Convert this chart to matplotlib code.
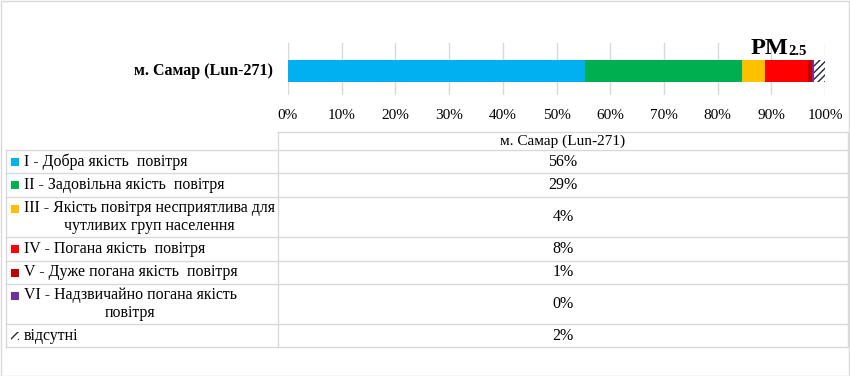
import matplotlib.pyplot as plt
from matplotlib.patches import Rectangle
from matplotlib.lines import Line2D

# data
station = 'м. Самар (Lun-271)'
categories = ['I - Добра якість  повітря',
              'II - Задовільна якість  повітря',
              'III - Якість повітря несприятлива для\nчутливих груп населення',
              'IV - Погана якість  повітря',
              'V - Дуже погана якість  повітря',
              'VI - Надзвичайно погана якість\nповітря',
              'відсутні']
shares = [55.4, 29.1, 4.3, 8.0, 0.8, 0.3, 2.1]
table_labels = ['56%', '29%', '4%', '8%', '1%', '0%', '2%']
colors = ['#00B0F0', '#00B050', '#FFC000', '#FF0000', '#C00000', '#7030A0', 'white']
ticks = list(range(0, 101, 10))

plt.rcParams['font.family'] = ['Liberation Serif', 'DejaVu Serif']

W, H = 850, 376
fig = plt.figure(figsize=(W / 100, H / 100), dpi=100)

def fx(x):
    return x / W

def fy(y):
    return 1 - y / H

# outer frame
fig.patches.append(Rectangle((fx(0.5), fy(375.5)), fx(848), 374.5 / H, transform=fig.transFigure,
                             fill=False, edgecolor='#d9d9d9', lw=1))

# bar chart
ax = fig.add_axes([fx(288), fy(95), fx(825) - fx(288), 52 / H])
left = 0
for v, c in zip(shares, colors):
    if c == 'white':
        ax.barh(0, v, left=left, height=0.423, color='white', edgecolor='#1f2a3a',
                hatch='/////', lw=0)
    else:
        ax.barh(0, v, left=left, height=0.423, color=c, lw=0)
    left += v
ax.set_xlim(0, 100)
ax.set_ylim(-0.4615, 0.5385)
ax.set_xticks(ticks)
ax.set_xticklabels([f'{t}%' for t in ticks], fontsize=11)
ax.set_yticks([])
ax.grid(axis='x', color='#d9d9d9', lw=1)
ax.set_axisbelow(True)
ax.tick_params(axis='x', length=0, pad=10)
for s in ax.spines.values():
    s.set_visible(False)

fig.text(fx(273), fy(71), station, ha='right', va='center', fontsize=11.5, fontweight='bold')
fig.text(fx(788), fy(54), 'PM', ha='right', va='baseline', fontsize=17.5, fontweight='bold')
fig.text(fx(788), fy(55), '2.5', ha='left', va='baseline', fontsize=10.5, fontweight='bold')

# table
rows = [150, 173, 197, 237, 261, 284, 324, 347]
grid_kw = dict(color='#d9d9d9', lw=1, transform=fig.transFigure)
fig.lines.append(Line2D([fx(278), fx(848)], [fy(132), fy(132)], **grid_kw))
for y in rows:
    fig.lines.append(Line2D([fx(6), fx(848)], [fy(y), fy(y)], **grid_kw))
fig.lines.append(Line2D([fx(6), fx(6)], [fy(150), fy(347)], **grid_kw))
fig.lines.append(Line2D([fx(278), fx(278)], [fy(132), fy(347)], **grid_kw))
fig.lines.append(Line2D([fx(848), fx(848)], [fy(132), fy(347)], **grid_kw))

fig.text(fx(563), fy(141), station, ha='center', va='center', fontsize=11)
for i, (cat, lab, c) in enumerate(zip(categories, table_labels, colors)):
    yc = (rows[i] + rows[i + 1]) / 2
    fig.text(fx(563), fy(yc), lab, ha='center', va='center', fontsize=11.5)
    fig.text(fx(24), fy(yc), cat, ha='left', va='center', fontsize=11.4,
             multialignment='center', linespacing=1.2)
    if c == 'white':
        fig.patches.append(Rectangle((fx(11), fy(yc + 4)), 8 / W, 8 / H, transform=fig.transFigure,
                                     facecolor='white', edgecolor='#1f2a3a', hatch='////', lw=0))
    else:
        top = rows[i] + 11.5
        fig.patches.append(Rectangle((fx(11), fy(top + 4)), 8 / W, 8 / H, transform=fig.transFigure,
                                     facecolor=c, lw=0))

fig.savefig('out.png', dpi=100)
